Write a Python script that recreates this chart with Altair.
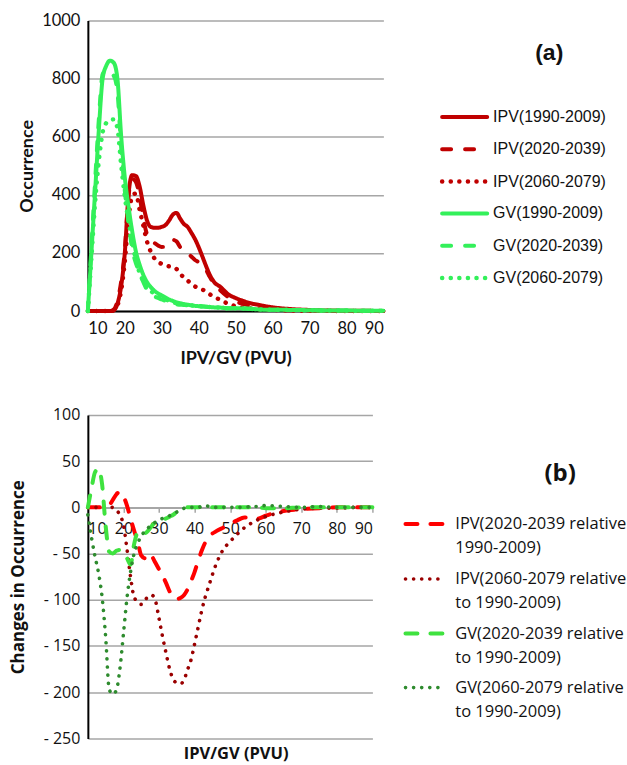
import altair as alt
import pandas as pd

# ---------------- data ----------------
X = list(range(10, 45)) + [46, 48, 50, 52, 54, 56, 58, 60, 65, 70, 75, 80, 85, 90]

# panel (a): occurrence
ipv_1990 = [0, 0, 0, 0, 0, 0, 0, 3, 25, 85,
            200, 400, 468, 465, 430, 365, 312, 290, 287, 287,
            290, 296, 312, 332, 338, 318, 300, 290, 270, 248,
            220, 188, 155, 125, 103,
            82, 58, 45, 35, 27, 22, 17, 13,
            7, 4, 2, 1, 1, 0]
ipv_2020 = [0, 0, 0, 0, 0, 0, 0, 5, 35, 100,
            210, 395, 455, 445, 395, 320, 265, 248, 235, 226,
            221, 222, 232, 245, 240, 220, 210, 200, 188, 176,
            168, 155, 142, 118, 98,
            70, 48, 33, 25, 18, 13, 8, 5,
            3, 2, 1, 1, 0, 0]
ipv_2060 = [0, 0, 0, 0, 0, 0, 0, 3, 20, 70,
            170, 320, 395, 405, 350, 295, 240, 205, 182, 170,
            162, 157, 154, 152, 145, 128, 116, 105, 95, 85,
            79, 74, 68, 58, 50,
            38, 25, 17, 12, 9, 7, 5, 4,
            2, 1, 1, 0, 0, 0]
gv_1990 = [0, 210, 420, 630, 800, 845, 862, 855, 800, 605,
           460, 360, 275, 205, 160, 125, 100, 83, 70, 61,
           54, 47, 40, 35, 30, 27, 24, 22, 20, 18,
           17, 16, 15, 14, 13,
           12, 10, 10, 9, 8, 6, 5, 5,
           4, 3, 2, 2, 1, 1]
gv_2020 = [0, 230, 455, 665, 815, 830, 820, 810, 755, 565,
           415, 305, 215, 165, 133, 100, 74, 60, 51, 45,
           40, 35, 29, 26, 23, 22, 21, 20, 20, 18,
           17, 16, 15, 14, 13,
           12, 10, 10, 9, 8, 6, 5, 5,
           4, 3, 2, 2, 1, 1]
gv_2060 = [0, 190, 380, 520, 615, 648, 658, 660, 630, 505,
           395, 312, 242, 175, 133, 103, 84, 70, 60, 52,
           47, 41, 35, 31, 27, 25, 23, 22, 20, 18,
           17, 16, 15, 14, 13,
           12, 10, 10, 9, 8, 6, 5, 5,
           4, 3, 2, 2, 1, 1]

# panel (b): changes in occurrence
d_ipv_2020 = [0, 0, 0, 0, 0, 0, 2, 8, 14, 17,
              12, 2, -12, -25, -37, -52, -55, -50, -53, -60,
              -67, -74, -82, -91, -97, -99, -98, -95, -89, -80,
              -70, -58, -47, -38, -32,
              -26, -22, -18, -14, -11, -11, -12, -9,
              -4, -2, -1, 0, 0, 0]
d_ipv_2060 = [0, 0, 0, 0, 0, 0, 0, 0, -3, -8,
              -19, -45, -75, -97, -102, -105, -101, -96, -95, -101,
              -120, -140, -158, -175, -186, -190, -191, -187, -176, -165,
              -148, -130, -112, -97, -85,
              -62, -46, -37, -29, -22, -17, -13, -10,
              -5, -2, -1, -1, 0, 0]
d_gv_2020 = [0, 20, 38, 42, 25, -20, -48, -50, -47, -46,
             -48, -55, -62, -40, -27, -25, -28, -25, -20, -16,
             -14, -13, -12, -10, -8, -5, -3, -1, 0, 0,
             0, 0, 1, 1, 0,
             0, 0, 0, 0, 0, 0, 0, -1,
             -1, 0, 0, 0, 0, 0]
d_gv_2060 = [-8, -32, -53, -71, -97, -140, -197, -202, -198, -175,
             -137, -98, -70, -50, -39, -31, -26, -22, -19, -16,
             -14, -12, -11, -9, -7, -5, -3, -1, 0, 0,
             0, 0, 1, 2, 1,
             0, 0, 0, 0, 0, 1, 1, 2,
             1, 0, 1, 0, 0, 0]

series_a = ["IPV(1990-2009)", "IPV(2020-2039)", "IPV(2060-2079)",
            "GV(1990-2009)", "GV(2020-2039)", "GV(2060-2079)"]
values_a = [ipv_1990, ipv_2020, ipv_2060, gv_1990, gv_2020, gv_2060]

series_b = ["IPV(2020-2039 relative", "IPV(2060-2079 relative",
            "GV(2020-2039 relative", "\u00a0GV(2060-2079 relative"]
series_b_line2 = ["1990-2009)", "to 1990-2009)", "to 1990-2009)", "to 1990-2009)"]
values_b = [d_ipv_2020, d_ipv_2060, d_gv_2020, d_gv_2060]

x_ticks = [10, 20, 30, 40, 50, 60, 70, 80, 90]
y_ticks_a = [0, 200, 400, 600, 800, 1000]
y_ticks_b = [-250, -200, -150, -100, -50, 0, 50, 100]

# ---------------- styles ----------------
RED = "#C00000"
GREEN = "#33F05A"
colors_a = [RED, RED, RED, GREEN, GREEN, GREEN]
dash_a = [[1, 0], [9, 14], [0.1, 8.5], [1, 0], [9, 14], [0.1, 8.5]]
width_a = [4, 4, 4.5, 4, 4, 4.5]

colors_b = ["#FF0000", "#9A0000", "#3FE23F", "#2E8B2E"]
dash_b = [[12, 13], [0.1, 8], [12, 13], [0.1, 8]]
width_b = [4, 3.6, 4, 3.6]

# legend positions, expressed in each panel's data units
leg_a_y = [668, 557, 446, 336, 225, 114]
leg_a_x0, leg_a_x1, leg_a_xt = 105.9, 118.1, 119.7
tag_a = {"x": 134.9, "y": 890, "label": "(a)"}

leg_b_y = [-18, -77.5, -136.5, -195]
leg_b_y2 = [-44.5, -104, -163, -221.5]
leg_b_x0, leg_b_x1, leg_b_xt = 99.3, 110.5, 113.3
tag_b = {"x": 142.8, "y": 36, "label": "(b)"}

GRID = "#A6A6A6"

# ---------------- panel (a) ----------------
W_A, H_A = 296, 291
sx_a = alt.Scale(domain=[10, 90], nice=False, zero=False)
sy_a = alt.Scale(domain=[0, 1000], nice=False)
ax_xa = alt.Axis(title="IPV/GV (PVU)", values=x_ticks, grid=False, ticks=False,
                 domainColor="black", domainWidth=2, format="d",
                 labelFont="Lato", labelFontSize=16.5, labelColor="#111",
                 labelPadding=9, titleFont="Lato", titleFontSize=18,
                 titleFontWeight="bold", titleColor="#111", titlePadding=13)
ax_ya = alt.Axis(title="Occurrence", values=y_ticks_a, grid=True, gridColor=GRID,
                 gridWidth=1.5, ticks=False, domainColor="black", domainWidth=2,
                 format="d",
                 labelFont="Lato", labelFontSize=16.5, labelColor="#111",
                 labelPadding=8, titleFont="Lato", titleFontSize=18,
                 titleFontWeight="bold", titleColor="#111", titlePadding=5)

layers_a = []
for s, vals, c, d, w in zip(series_a, values_a, colors_a, dash_a, width_a):
    df = pd.DataFrame({"x": X, "y": vals})
    layers_a.append(
        alt.Chart(df).mark_line(color=c, strokeDash=d, strokeWidth=w,
                                strokeCap="round", strokeJoin="round",
                                interpolate="monotone")
        .encode(x=alt.X("x:Q", scale=sx_a, axis=ax_xa),
                y=alt.Y("y:Q", scale=sy_a, axis=ax_ya))
    )
for s, ly, c, d, w in zip(series_a, leg_a_y, colors_a, dash_a, width_a):
    df = pd.DataFrame({"x": [leg_a_x0], "x_end": [leg_a_x1], "y": [ly]})
    layers_a.append(
        alt.Chart(df).mark_rule(color=c, strokeDash=d, strokeWidth=w, strokeCap="round")
        .encode(x=alt.X("x:Q", scale=sx_a, axis=ax_xa), x2="x_end:Q",
                y=alt.Y("y:Q", scale=sy_a, axis=ax_ya))
    )
leg_a_df = pd.DataFrame({"x": [leg_a_xt] * len(series_a), "y": leg_a_y, "label": series_a})
layers_a.append(
    alt.Chart(leg_a_df).mark_text(align="left", baseline="middle", font="Liberation Sans",
                                  fontSize=16, color="#111")
    .encode(x=alt.X("x:Q", scale=sx_a, axis=ax_xa),
            y=alt.Y("y:Q", scale=sy_a, axis=ax_ya), text="label:N")
)
layers_a.append(
    alt.Chart(pd.DataFrame([tag_a])).mark_text(align="center", baseline="middle",
                                               font="Liberation Sans", fontSize=23,
                                               fontWeight="bold", color="#111")
    .encode(x=alt.X("x:Q", scale=sx_a, axis=ax_xa),
            y=alt.Y("y:Q", scale=sy_a, axis=ax_ya), text="label:N")
)
chart_a = alt.layer(*layers_a).properties(width=W_A, height=H_A)

# ---------------- panel (b) ----------------
W_B, H_B = 285, 324
sx_b = alt.Scale(domain=[10, 90], nice=False, zero=False)
sy_b = alt.Scale(domain=[-250, 100], nice=False, zero=False)
ax_xb = alt.Axis(title="IPV/GV (PVU)", values=x_ticks, grid=False, ticks=True,
                 tickColor=GRID, tickWidth=1.5, tickSize=5,
                 domainColor=GRID, domainWidth=1.5, offset=-H_B * 250 / 350,
                 labelFont="Open Sans", labelFontSize=16, labelColor="#111",
                 labelPadding=8, titleFont="Open Sans", titleFontSize=16.5,
                 titleFontWeight="bold", titleColor="#111",
                 titleX=148, titleY=247, titleBaseline="middle")
ax_yb = alt.Axis(title="Changes in Occurrence", values=y_ticks_b, grid=True,
                 gridColor=GRID, gridWidth=1.5, ticks=False,
                 domainColor="black", domainWidth=2,
                 labelExpr="datum.value < 0 ? '- ' + (-datum.value) : datum.label",
                 labelFont="Open Sans", labelFontSize=16, labelColor="#111",
                 labelPadding=8, titleFont="Open Sans", titleFontSize=17,
                 titleFontWeight="bold", titleColor="#111", titlePadding=16)

layers_b = []
for s, vals, c, d, w in zip(series_b, values_b, colors_b, dash_b, width_b):
    df = pd.DataFrame({"x": X, "y": vals})
    layers_b.append(
        alt.Chart(df).mark_line(color=c, strokeDash=d, strokeWidth=w,
                                strokeCap="round", strokeJoin="round",
                                interpolate="monotone")
        .encode(x=alt.X("x:Q", scale=sx_b, axis=ax_xb),
                y=alt.Y("y:Q", scale=sy_b, axis=ax_yb))
    )
for s, ly, c, d, w in zip(series_b, leg_b_y, colors_b, dash_b, width_b):
    df = pd.DataFrame({"x": [leg_b_x0], "x_end": [leg_b_x1], "y": [ly]})
    layers_b.append(
        alt.Chart(df).mark_rule(color=c, strokeDash=d, strokeWidth=w, strokeCap="round")
        .encode(x=alt.X("x:Q", scale=sx_b, axis=ax_xb), x2="x_end:Q",
                y=alt.Y("y:Q", scale=sy_b, axis=ax_yb))
    )
leg_b_df = pd.DataFrame({"x": [leg_b_xt] * (2 * len(series_b)),
                         "y": leg_b_y + leg_b_y2,
                         "label": series_b + series_b_line2})
layers_b.append(
    alt.Chart(leg_b_df).mark_text(align="left", baseline="middle", font="Open Sans",
                                  fontSize=16.5, color="#111")
    .encode(x=alt.X("x:Q", scale=sx_b, axis=ax_xb),
            y=alt.Y("y:Q", scale=sy_b, axis=ax_yb), text="label:N")
)
layers_b.append(
    alt.Chart(pd.DataFrame([tag_b])).mark_text(align="center", baseline="middle",
                                               font="Open Sans", fontSize=24,
                                               fontWeight="bold", color="#111")
    .encode(x=alt.X("x:Q", scale=sx_b, axis=ax_xb),
            y=alt.Y("y:Q", scale=sy_b, axis=ax_yb), text="label:N")
)
chart_b = alt.layer(*layers_b).properties(width=W_B, height=H_B)

chart = (
    alt.vconcat(chart_a, chart_b, spacing=39)
    .properties(padding={"left": 9, "top": 12, "right": 0, "bottom": 0},
                background="white")
    .configure_view(stroke=None)
)
chart.save("out.html", embed_options={"renderer": "svg", "actions": False})
